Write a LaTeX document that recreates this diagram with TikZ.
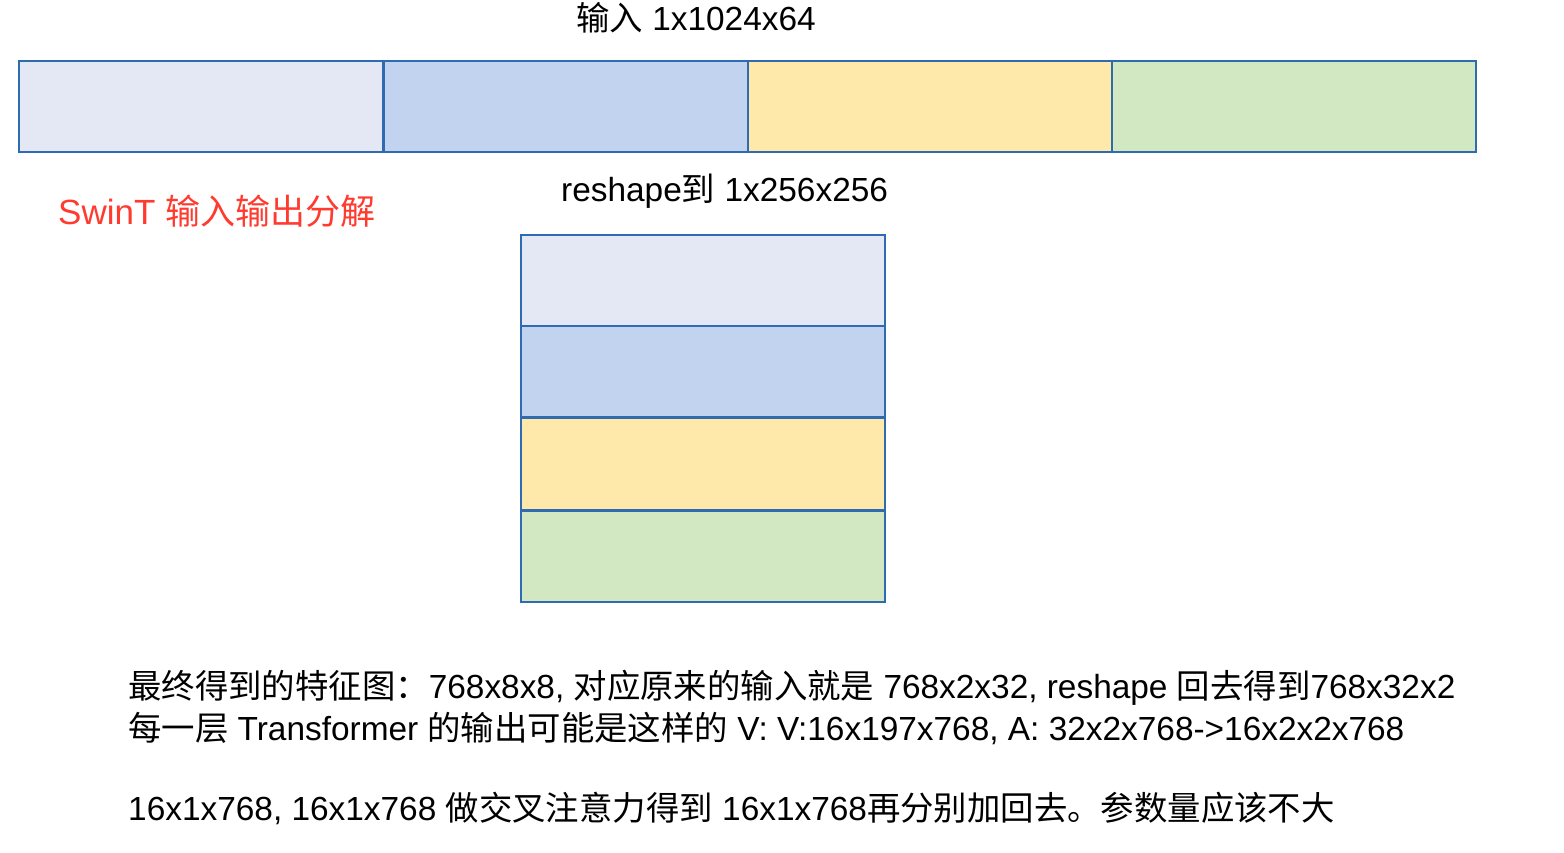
\documentclass[tikz,border=0pt]{standalone}
\usepackage{fontspec}
\setmainfont{Liberation Sans}
\newfontfamily\cjk{Noto Sans CJK SC}
\definecolor{cA}{HTML}{E3E8F4}
\definecolor{cB}{HTML}{C1D3EE}
\definecolor{cC}{HTML}{FFE9AA}
\definecolor{cD}{HTML}{D1E8C3}
\definecolor{edge}{HTML}{2E6BB0}
\definecolor{redtxt}{HTML}{FF3B30}
\begin{document}
\begin{tikzpicture}[x=1pt,y=-1pt,
  cell/.style={draw=edge,line width=2pt,inner sep=0pt,outer sep=0pt},
  hcell/.style={cell,minimum width=364pt,minimum height=91pt},
  vcell/.style={cell,minimum width=364pt,minimum height=91pt},
  txt/.style={inner sep=0pt,font=\fontsize{33.4}{40}\selectfont},
]
\useasboundingbox (0,0) rectangle (1564,852);
% top bar
\node[hcell,fill=cA] (t1) at (201,106.5) {};
\node[hcell,fill=cB] (t2) at (565.5,106.5) {};
\node[hcell,fill=cC] (t3) at (930,106.5) {};
\node[hcell,fill=cD] (t4) at (1294,106.5) {};
% stack
\node[vcell,fill=cA] (s1) at (703,280.5) {};
\node[vcell,fill=cB] (s2) at (703,371.5) {};
\node[vcell,fill=cC,minimum height=92pt] (s3) at (703,464) {};
\node[vcell,fill=cD] (s4) at (703,556) {};
% texts
\node[txt] (title) at (696,18) {{\cjk 输入} 1x1024x64};
\node[txt,anchor=west] (reshape) at (561,191) {reshape{\cjk 到} 1x256x256};
\node[txt,anchor=west,text=redtxt,font=\fontsize{35}{42}\selectfont] (red) at (58,211) {SwinT {\cjk 输入输出分解}};
\node[txt,anchor=west] (l1) at (128,688) {{\cjk 最终得到的特征图：}768x8x8, {\cjk 对应原来的输入就是} 768x2x32, reshape {\cjk 回去得到}768x32x2};
\node[txt,anchor=west] (l2) at (128,728) {{\cjk 每一层} Transformer {\cjk 的输出可能是这样的} V: V:16x197x768, A: 32x2x768->16x2x2x768};
\node[txt,anchor=west] (l3) at (128,808) {16x1x768, 16x1x768 {\cjk 做交叉注意力得到} 16x1x768{\cjk 再分别加回去。参数量应该不大}};
\end{tikzpicture}
\end{document}
